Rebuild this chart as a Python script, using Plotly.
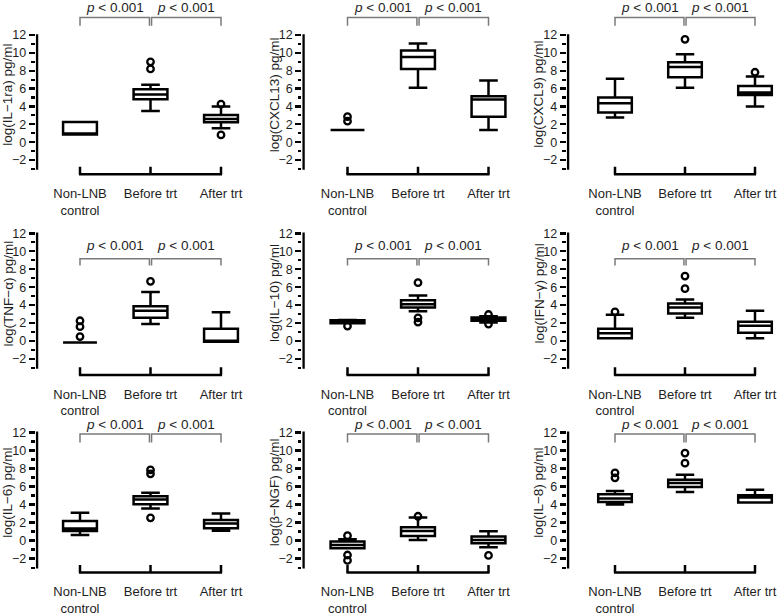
import plotly.graph_objects as go

# ---------------- data ----------------
categories = ["Non-LNB<br>control", "Before trt", "After trt"]
y_titles = ["log(IL\u22121ra) pg/ml", "log(CXCL13) pg/ml", "log(CXCL9) pg/ml",
            "log(TNF\u2212\u03b1) pg/ml", "log(IL\u221210) pg/ml", "log(IFN\u2212\u03b3) pg/ml",
            "log(IL\u22126) pg/ml", "log(\u03b2\u2212NGF) pg/ml", "log(IL\u22128) pg/ml"]
p_labels = ["<i>p</i> &lt; 0.001", "<i>p</i> &lt; 0.001"]
y_tickvals = [-2, 0, 2, 4, 6, 8, 10, 12]
y_minorvals = [-3, -1, 1, 3, 5, 7, 9, 11]

# per panel: values for [Non-LNB control, Before trt, After trt]
lowerfence = [[0.85, 3.48, 1.55], [1.37, 6.09, 1.37], [2.77, 6.09, 3.99],
              [-0.18, 1.88, -0.10], [1.96, 3.32, 2.05], [0.30, 2.58, 0.30],
              [0.62, 3.56, 1.10], [-0.85, 0.07, -0.74], [4.00, 5.39, 4.22]]
q1 = [[0.85, 4.81, 2.22], [1.37, 8.20, 2.84], [3.32, 7.27, 5.28],
      [-0.18, 2.58, -0.10], [1.98, 3.73, 2.25], [0.30, 3.06, 0.92],
      [1.06, 4.04, 1.36], [-0.85, 0.51, -0.29], [4.29, 5.94, 4.22]]
median = [[0.85, 5.33, 2.60], [1.37, 9.53, 4.78], [4.36, 8.42, 5.55],
          [-0.18, 3.36, -0.10], [2.10, 4.10, 2.45], [0.85, 3.73, 1.70],
          [1.35, 4.55, 1.90], [-0.48, 1.07, 0.07], [4.66, 6.39, 4.77]]
q3 = [[2.25, 5.93, 3.04], [1.37, 10.27, 5.13], [4.99, 8.94, 6.28],
      [-0.18, 3.88, 1.37], [2.30, 4.54, 2.62], [1.37, 4.17, 2.14],
      [2.17, 4.92, 2.28], [-0.11, 1.47, 0.44], [5.14, 6.75, 5.03]]
upperfence = [[2.25, 6.44, 4.00], [1.37, 11.04, 6.90], [7.09, 9.86, 7.35],
              [-0.18, 5.47, 3.21], [2.33, 5.06, 2.75], [2.92, 4.62, 3.36],
              [3.08, 5.32, 3.00], [0.15, 2.57, 1.03], [5.50, 7.30, 5.65]]
outliers_non = [[], [2.35, 2.85], [], [0.48, 1.59, 2.25], [1.66], [3.25], [], [0.55, -1.60, -2.20], [6.97, 7.52]]
outliers_before = [[8.2, 9.0], [], [11.52], [6.65], [6.5, 2.58, 2.10], [5.83, 7.24], [7.41, 7.85, 2.53], [2.70], [8.59, 9.72]]
outliers_after = [[4.26, 0.81], [], [7.83], [], [2.95, 1.88], [], [], [-1.65], []]

# ---------------- layout geometry ----------------
W, H = 778, 616
FONT = "Liberation Sans, Arial, Helvetica, sans-serif"
TXT = "#1e1e1e"
col_cat0 = [80.0, 347.5, 615.0]
col_step = [70.5, 70.5, 70.0]
col_spine = [37.0, 303.5, 568.0]
row_zero = [142.3, 342.7, 544.0]
row_ppu = [9.0, 9.03, 9.08]
row_line = [-3.6, -3.8, -3.55]
row_top = [15.75, 12.6, 14.2]
row_bracket = [(13.96, 13.03, 15.07), (9.16, 8.42, 10.6), (11.82, 10.9, 12.85)]
XRIGHT = 2.32
AXW = 2.5

fig = go.Figure()
layout = dict(width=W, height=H, margin=dict(l=0, r=0, t=0, b=0),
              paper_bgcolor="white", plot_bgcolor="rgba(0,0,0,0)",
              showlegend=False, font=dict(family=FONT, color=TXT))
shapes, annotations = [], []

for i in range(9):
    r, c = divmod(i, 3)
    sfx = "" if i == 0 else str(i + 1)
    xr, yr = "x" + sfx, "y" + sfx
    step = col_step[c]
    xleft = (col_spine[c] - AXW / 2 - col_cat0[c]) / step
    xspine = (col_spine[c] - col_cat0[c]) / step
    ybot = row_line[r] - 0.22
    ytop = row_top[r]
    x0p = (col_cat0[c] + xleft * step) / W
    x1p = (col_cat0[c] + XRIGHT * step) / W
    y0p = 1 - (row_zero[r] - ybot * row_ppu[r]) / H
    y1p = min(1.0, 1 - (row_zero[r] - ytop * row_ppu[r]) / H)

    layout["xaxis" + sfx] = dict(domain=[x0p, x1p], range=[xleft, XRIGHT], anchor=yr,
                                 tickmode="array", tickvals=[0, 1, 2], ticktext=categories,
                                 ticks="outside", ticklen=5, tickcolor="rgba(0,0,0,0)",
                                 tickfont=dict(size=13, color=TXT, family=FONT),
                                 showline=False, showgrid=False, zeroline=False, fixedrange=True)
    layout["yaxis" + sfx] = dict(domain=[y0p, y1p], range=[ybot, ytop], anchor=xr,
                                 tickmode="array", tickvals=y_tickvals,
                                 ticks="outside", ticklen=6, tickwidth=2.2, tickcolor="black",
                                 tickfont=dict(size=12.5, color=TXT, family=FONT),
                                 minor=dict(tickmode="array", tickvals=y_minorvals, ticks="outside",
                                            ticklen=3.5, tickwidth=2.2, tickcolor="black"),
                                 showline=False, showgrid=False, zeroline=False, fixedrange=True)

    fig.add_trace(go.Box(x=[0, 1, 2], q1=q1[i], median=median[i], q3=q3[i],
                         lowerfence=lowerfence[i], upperfence=upperfence[i],
                         width=0.48, whiskerwidth=0.55, boxpoints=False,
                         line=dict(color="black", width=2.5), fillcolor="white",
                         xaxis=xr, yaxis=yr, hoverinfo="skip"))
    ox = [0] * len(outliers_non[i]) + [1] * len(outliers_before[i]) + [2] * len(outliers_after[i])
    oy = outliers_non[i] + outliers_before[i] + outliers_after[i]
    if oy:
        fig.add_trace(go.Scatter(x=ox, y=oy, mode="markers", xaxis=xr, yaxis=yr,
                                 marker=dict(symbol="circle-open", size=6.5, color="black",
                                             line=dict(width=2.3, color="black")),
                                 cliponaxis=False, hoverinfo="skip"))

    # Prism-style detached axes
    shapes.append(dict(type="line", xref=xr, yref=yr, x0=xspine, x1=xspine, y0=-3.1, y1=12.1,
                       line=dict(color="black", width=AXW)))
    yl = row_line[r]
    shapes.append(dict(type="line", xref=xr, yref=yr, x0=-0.015, x1=2.015, y0=yl, y1=yl,
                       line=dict(color="black", width=AXW)))
    for k in range(3):
        shapes.append(dict(type="line", xref=xr, yref=yr, x0=k, x1=k, y0=yl, y1=yl + 0.85,
                           line=dict(color="black", width=AXW)))

    # significance brackets
    bt, bb, ty = row_bracket[r]
    for j, (a, b) in enumerate([(0.0, 0.985), (1.015, 2.0)]):
        shapes.append(dict(type="path", xref=xr, yref=yr,
                           path=f"M {a},{bb} L {a},{bt} L {b},{bt} L {b},{bb}",
                           line=dict(color="#7a7a7a", width=1.5)))
        annotations.append(dict(xref=xr, yref=yr, x=(j + 0.5), y=ty, text=p_labels[j],
                                showarrow=False, font=dict(size=13.5, color=TXT, family=FONT)))

    annotations.append(dict(xref="paper", yref=yr, x=(col_spine[c] - 29) / W, y=5.3,
                            text=y_titles[i], textangle=-90, showarrow=False,
                            xanchor="center", yanchor="middle",
                            font=dict(size=13.5, color=TXT, family=FONT)))

layout["shapes"] = shapes
layout["annotations"] = annotations
fig.update_layout(**layout)
fig.write_html("out.html", config={"displayModeBar": False, "staticPlot": True},
               post_script="document.body.style.margin='0';document.body.style.overflow='hidden';")
